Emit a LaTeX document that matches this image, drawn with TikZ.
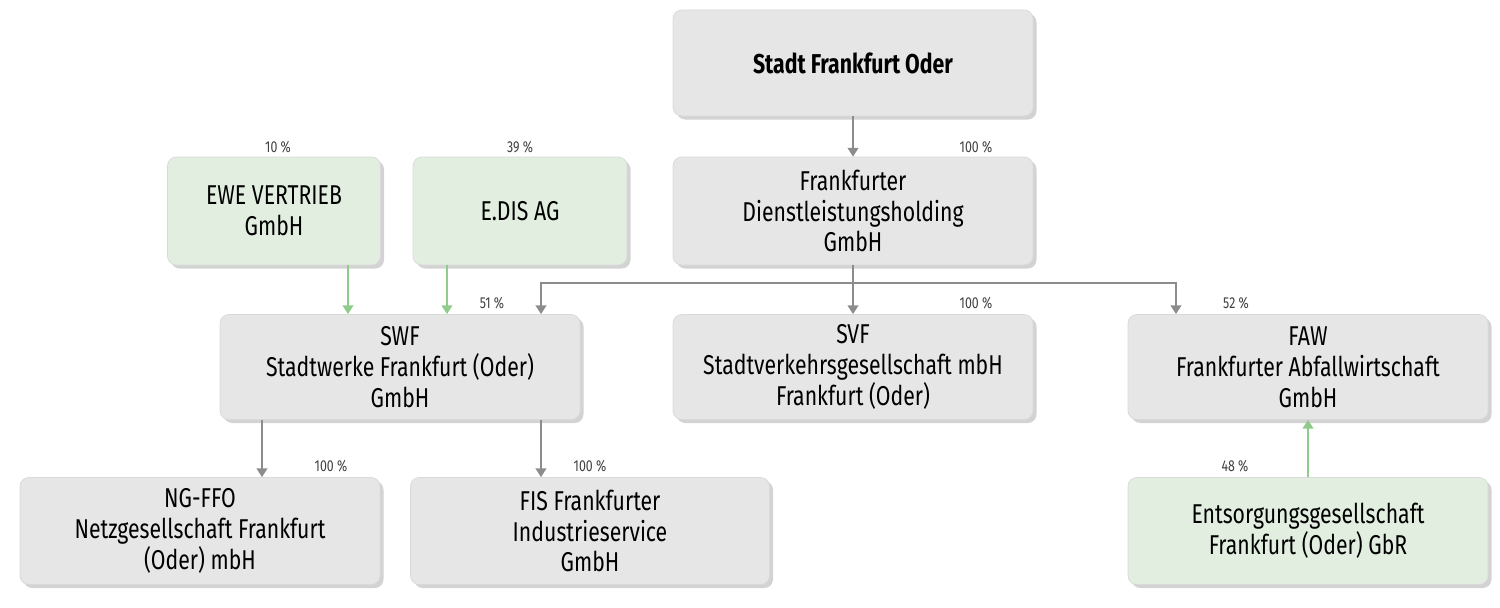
\documentclass[tikz,border=0pt]{standalone}
\usepackage{fontspec}
\setmainfont[FakeStretch=0.78]{Fira Sans}
\usetikzlibrary{shadows,arrows.meta}
\definecolor{boxg}{HTML}{E6E6E6}
\definecolor{boxgr}{HTML}{E2EFE0}
\definecolor{arr}{HTML}{8C8C8C}
\definecolor{garr}{HTML}{8FCB8A}
\tikzset{
 org/.style={draw=black!15,rounded corners=5pt,fill=boxg,align=center,
   font=\fontsize{15.5}{17.6}\selectfont,
   drop shadow={shadow xshift=2pt,shadow yshift=-2pt,opacity=0.35}},
 grn/.style={org,fill=boxgr},
 pct/.style={font=\fontsize{9}{10}\selectfont,text=black!75},
 ga/.style={draw=arr,line width=1.4pt,-{Triangle[length=5pt,width=6pt]}},
 gr/.style={draw=garr,line width=1.4pt,-{Triangle[length=5pt,width=6pt]}}
}
\begin{document}
\begin{tikzpicture}[x=0.02cm,y=-0.02cm]
\useasboundingbox (0,0) rectangle (1500,608);
\newcommand\bx[7]{\node[#1,minimum width=#4*0.02cm,minimum height=#5*0.02cm] (#2) at (#3) {#6};}
\bx{org}{stadt}{853,63}{360}{106}{\textbf{Stadt Frankfurt Oder}}{}
\bx{org}{fdh}{853,211}{360}{108}{Frankfurter\\Dienstleistungsholding\\GmbH}{}
\bx{grn}{ewe}{274,211}{213}{108}{EWE VERTRIEB\\GmbH}{}
\bx{grn}{edis}{520,211}{214}{108}{E.DIS AG}{}
\bx{org}{swf}{400,367}{360}{105}{SWF\\Stadtwerke Frankfurt (Oder)\\GmbH}{}
\bx{org}{svf}{853,367}{360}{105}{SVF\\Stadtverkehrsgesellschaft mbH\\Frankfurt (Oder)}{}
\bx{org}{faw}{1308,367}{360}{105}{FAW\\Frankfurter Abfallwirtschaft\\GmbH}{}
\bx{org}{ng}{200,531}{360}{107}{NG-FFO\\Netzgesellschaft Frankfurt\\(Oder) mbH}{}
\bx{org}{fis}{590,531}{359}{107}{FIS Frankfurter\\Industrieservice\\GmbH}{}
\bx{grn}{ent}{1308,531}{360}{107}{Entsorgungsgesellschaft\\Frankfurt (Oder) GbR}{}
\coordinate (j) at (853,283);
\draw[ga] (stadt) -- (fdh);
\draw[draw=arr,line width=1.4pt] (fdh.south) -- (j);
\draw[ga] (j) -| ([xshift=141*0.02cm]swf.north);
\draw[ga] (j) -- (svf);
\draw[ga] (j) -| ([xshift=-132*0.02cm]faw.north);
\draw[gr] ([xshift=74*0.02cm]ewe.south) -- ([xshift=-52*0.02cm]swf.north);
\draw[gr] ([xshift=-73*0.02cm]edis.south) -- ([xshift=47*0.02cm]swf.north);
\draw[ga] ([xshift=-138*0.02cm]swf.south) -- ([xshift=62*0.02cm]ng.north);
\draw[ga] ([xshift=141*0.02cm]swf.south) -- ([xshift=-49*0.02cm]fis.north);
\draw[gr] (ent) -- (faw);
\node[pct] (p1) at (278,147) {10 \%};
\node[pct] (p2) at (520,147) {39 \%};
\node[pct] (p3) at (976,147) {100 \%};
\node[pct] (p4) at (492,303) {51 \%};
\node[pct] (p5) at (976,303) {100 \%};
\node[pct] (p6) at (1236,303) {52 \%};
\node[pct] (p7) at (331,466) {100 \%};
\node[pct] (p8) at (590,466) {100 \%};
\node[pct] (p9) at (1235,466) {48 \%};
\end{tikzpicture}
\end{document}
